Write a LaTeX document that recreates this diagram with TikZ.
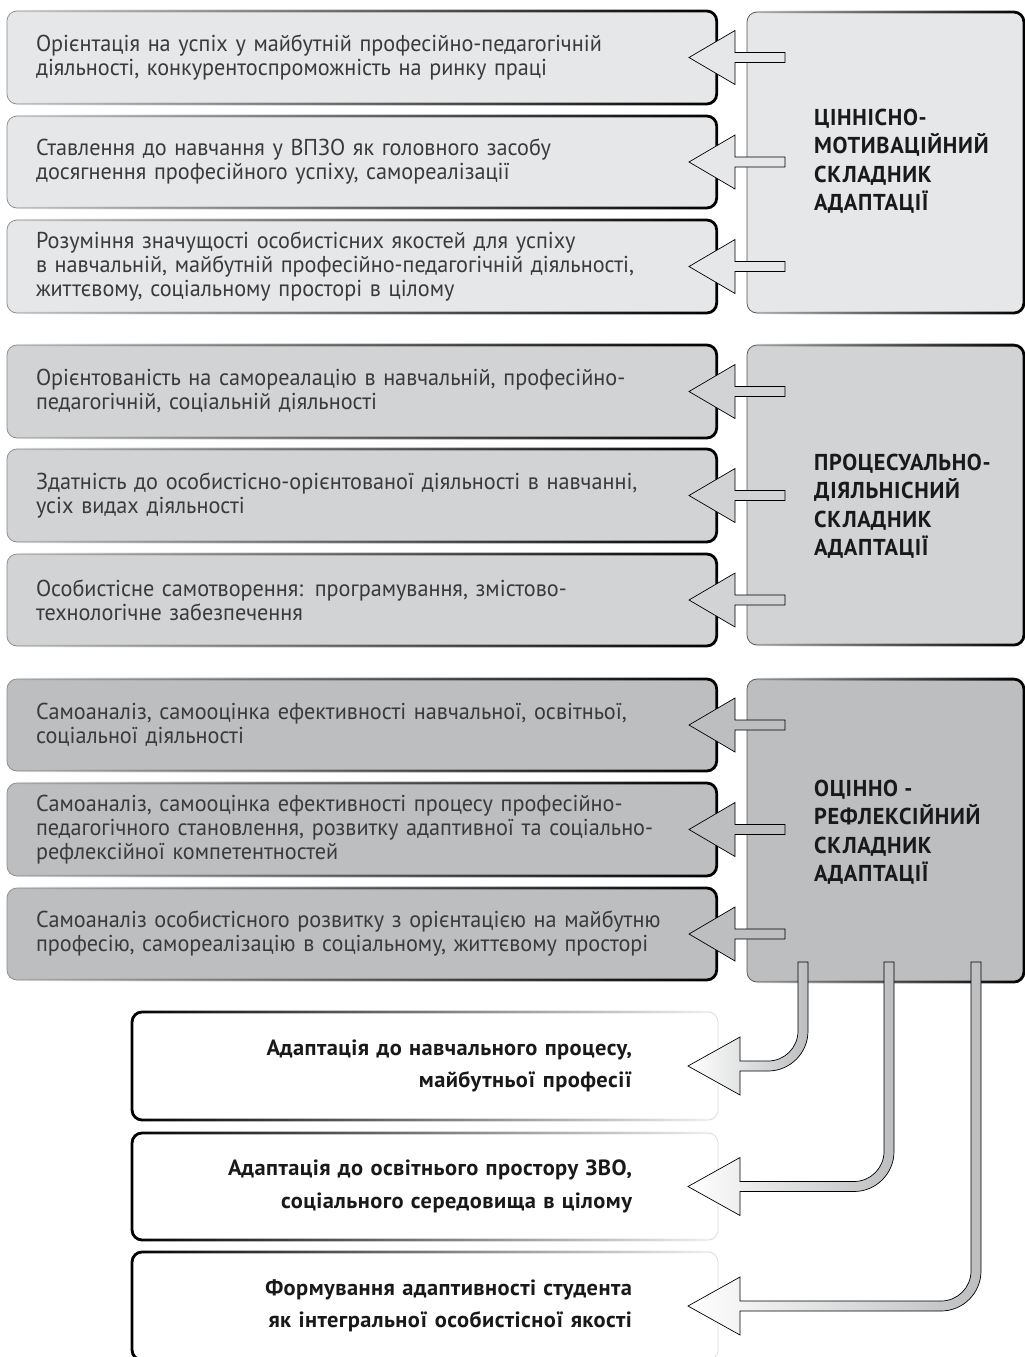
\documentclass[tikz,border=0pt]{standalone}
\usepackage{fontspec}
\setmainfont{PT Sans}[FakeStretch=0.965]
\newfontfamily\headfont{PT Sans}[FakeStretch=0.97,LetterSpace=3]
\newfontfamily\botfont{PT Sans}[FakeStretch=1.02,LetterSpace=2]
\usetikzlibrary{calc,fadings}
\definecolor{gA}{HTML}{E6E7E8}
\definecolor{gB}{HTML}{D1D3D4}
\definecolor{gC}{HTML}{BCBEC0}
\definecolor{txt}{HTML}{3A3A3A}
\definecolor{edge}{HTML}{8A8C8E}
\tikzfading[name=fadeR, left color=transparent!100, middle color=transparent!35, right color=transparent!0]
\tikzfading[name=fadeL, left color=transparent!0, middle color=transparent!35, right color=transparent!100]
\tikzset{
  base/.style={rounded corners=10pt, line width=0.7pt, outer sep=0pt, anchor=north west, inner ysep=3pt},
  sbox/.style={base, draw=edge, minimum width=710pt, inner xsep=29pt, text width=652pt, align=left, text=txt, font=\fontsize{23}{24}\selectfont},
  bigbox/.style={base, draw=edge!60!black, minimum width=277pt},
  wbox/.style={base, draw=gray!25, fill=white, minimum width=586pt, inner xsep=86pt, text width=414pt, align=right, text=black!90, font=\botfont\bfseries\fontsize{22}{32.5}\selectfont},
  rim/.style={draw=black, line width=2.8pt, rounded corners=10pt, path fading=fadeR},
  rimL/.style={draw=black, line width=2.8pt, rounded corners=10pt, path fading=fadeL},
  larr/.style={draw=black, line width=0.7pt, line join=miter},
  head/.style={anchor=west, align=left, inner sep=0pt, text=black!90, font=\headfont\bfseries\fontsize{23}{28.5}\selectfont},
}
\newcommand\blockarr[3]{%
  \coordinate (t) at ($(#2.east)+(-28,0)$);
  \coordinate (e) at ($(#1.west |- #2.east)+(38,0)$);
  \draw[larr, fill=#3] (t) -- ($(t)+(46,-27)$) -- ($(t)+(46,-5)$) -- ($(e)+(0,-5)$) -- ($(e)+(0,5)$) -- ($(t)+(46,5)$) -- ($(t)+(46,27)$) -- cycle;}
\newcommand\bentarr[3]{%
  \coordinate (p) at ($(#2.east)+(-30,0)$);
  \coordinate (q) at ($(#1.south west)+(#3,-20)$);
  \coordinate (c) at (q |- p);
  \draw[larr, left color=white, right color=gC] (p) -- ($(p)+(52,-29)$) -- ($(p)+(52,-5)$) -- ($(c)+(-35,-5)$) arc[start angle=270,end angle=360,radius=30pt] -- ($(q)+(-5,0)$) -- ($(q)+(5,0)$) -- ($(c)+(5,-35)$) arc[start angle=0,end angle=-90,radius=40pt] -- ($(p)+(52,5)$) -- ($(p)+(52,29)$) -- cycle;}
\begin{document}
\begin{tikzpicture}[x=1pt,y=-1pt]
\useasboundingbox (0,0) rectangle (1025,1357);
% section 1
\node[sbox, fill=gA, minimum height=93pt] (a1) at (7,11) {Орієнтація на успіх у майбутній професійно-педагогічній\\діяльності, конкурентоспроможність на ринку праці};
\node[sbox, fill=gA, minimum height=92pt] (a2) at (7,116) {Ставлення до навчання у ВПЗО як головного засобу\\досягнення професійного успіху, самореалізації};
\node[sbox, fill=gA, minimum height=93pt] (a3) at (7,220) {Розуміння значущості особистісних якостей для успіху\\в навчальній, майбутній професійно-педагогічній діяльності,\\життєвому, соціальному просторі в цілому};
\node[bigbox, fill=gA, minimum height=301pt] (A) at (747,12) {};
\foreach \n in {a1,a2,a3,A} \draw[rim] (\n.north west) rectangle (\n.south east);
\node[head] (hA) at (814,161) {ЦІННІСНО-\\МОТИВАЦІЙНИЙ\\СКЛАДНИК\\АДАПТАЦІЇ};
\blockarr{A}{a1}{gA}
\blockarr{A}{a2}{gA}
\blockarr{A}{a3}{gA}
% section 2
\node[sbox, fill=gB, minimum height=93pt] (b1) at (7,345) {Орієнтованість на самореалацію в навчальній, професійно-\\педагогічній, соціальній діяльності};
\node[sbox, fill=gB, minimum height=93pt] (b2) at (7,449) {Здатність до особистісно-орієнтованої діяльності в навчанні,\\усіх видах діяльності};
\node[sbox, fill=gB, minimum height=92pt] (b3) at (7,554) {Особистісне самотворення: програмування, змістово-\\технологічне забезпечення};
\node[bigbox, fill=gB, minimum height=300pt] (B) at (747,345) {};
\foreach \n in {b1,b2,b3,B} \draw[rim] (\n.north west) rectangle (\n.south east);
\node[head] (hB) at (814,506) {ПРОЦЕСУАЛЬНО-\\ДІЯЛЬНІСНИЙ\\СКЛАДНИК\\АДАПТАЦІЇ};
\blockarr{B}{b1}{gB}
\blockarr{B}{b2}{gB}
\blockarr{B}{b3}{gB}
% section 3
\node[sbox, fill=gC, minimum height=92pt] (c1) at (7,679) {Самоаналіз, самооцінка ефективності навчальної, освітньої,\\соціальної діяльності};
\node[sbox, fill=gC, minimum height=93pt] (c2) at (7,783) {Самоаналіз, самооцінка ефективності процесу професійно-\\педагогічного становлення, розвитку адаптивної та соціально-\\рефлексійної компетентностей};
\node[sbox, fill=gC, minimum height=92pt] (c3) at (7,888) {Самоаналіз особистісного розвитку з орієнтацією на майбутню\\професію, самореалізацію в соціальному, життєвому просторі};
\node[bigbox, fill=gC, minimum height=303pt] (C) at (747,679) {};
\foreach \n in {c1,c2,c3,C} \draw[rim] (\n.north west) rectangle (\n.south east);
\node[head] (hC) at (814,832) {ОЦІННО -\\РЕФЛЕКСІЙНИЙ\\СКЛАДНИК\\АДАПТАЦІЇ};
\blockarr{C}{c1}{gC}
\blockarr{C}{c2}{gC}
\blockarr{C}{c3}{gC}
% bottom
\node[wbox, minimum height=108pt] (d1) at (132,1012) {Адаптація до навчального процесу,\\майбутньої професії};
\node[wbox, minimum height=107pt] (d2) at (132,1133) {Адаптація до освітнього простору ЗВО,\\соціального середовища в цілому};
\node[wbox, minimum height=108pt] (d3) at (132,1252) {Формування адаптивності студента\\як інтегральної особистісної якості};
\foreach \n in {d1,d2,d3} \draw[rimL] (\n.north west) rectangle (\n.south east);
\bentarr{C}{d1}{56}
\bentarr{C}{d2}{142}
\bentarr{C}{d3}{229}
\end{tikzpicture}
\end{document}
